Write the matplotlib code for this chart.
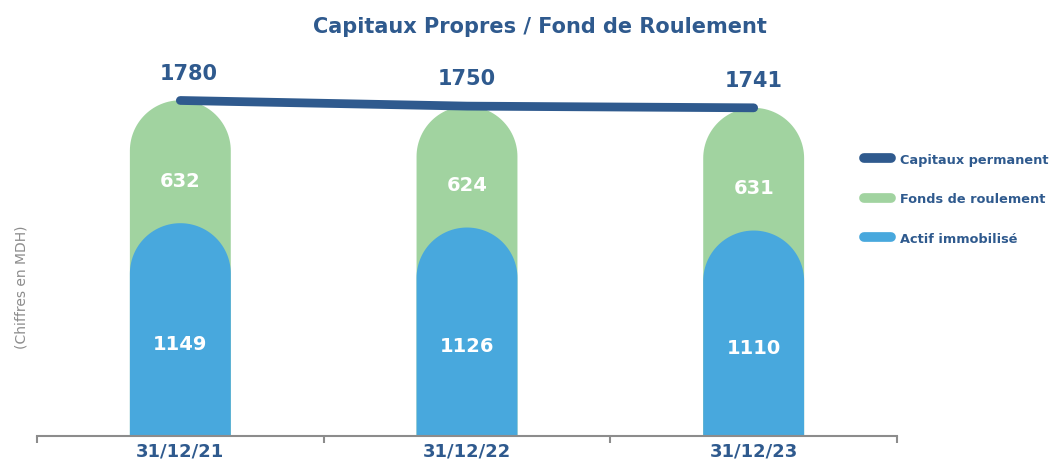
import matplotlib.pyplot as plt
from matplotlib.patches import Polygon
from matplotlib.lines import Line2D
import numpy as np

# data
dates = ["31/12/21", "31/12/22", "31/12/23"]
actif_immobilise = [1149, 1126, 1110]
fonds_roulement = [632, 624, 631]
capitaux_permanents = [1780, 1750, 1741]

DARK = "#2F5A8E"
GREEN = "#A1D3A0"
BLUE = "#48A8DD"

fig = plt.figure(figsize=(10.61, 4.64), dpi=100)
# axes box in pixels: left 37, right 897, top 60, bottom 437
ax = fig.add_axes([37 / 1061, (464 - 437) / 464, 860 / 1061, 377 / 464])
ax.set_xlim(-0.5, 2.5)
ax.set_ylim(0, 2000)

bar_w = 0.352
# pixel scales to get round tops
px_x = 860 / 3.0
px_y = 377 / 2000.0
r_x = bar_w / 2
r_y = r_x * px_x / px_y


def pill(xc, top, color, z):
    # bar with a half-circle top, the top of the arc is the value
    base = top - r_y
    t = np.linspace(0, np.pi, 60)
    xs = np.concatenate([[xc - r_x], xc - r_x * np.cos(t), [xc + r_x]])
    ys = np.concatenate([[0], base + r_y * np.sin(t), [0]])
    ax.add_patch(Polygon(np.column_stack([xs, ys]), closed=True,
                         facecolor=color, edgecolor="none", zorder=z))


x = np.arange(len(dates))
for i in x:
    tot = actif_immobilise[i] + fonds_roulement[i]
    pill(i, tot, GREEN, 1)
    pill(i, actif_immobilise[i] - 20, BLUE, 2)
    ax.text(i, actif_immobilise[i] * 0.425, str(actif_immobilise[i]), color="white",
            fontsize=14, fontweight="bold", ha="center", va="center", zorder=3)
    ax.text(i, actif_immobilise[i] + fonds_roulement[i] * 0.33, str(fonds_roulement[i]),
            color="white", fontsize=14, fontweight="bold", ha="center", va="center", zorder=3)

ax.plot(x, capitaux_permanents, color=DARK, lw=6.3, solid_capstyle="round", zorder=4)
offs = [0.03, 0, 0]
for i in x:
    ax.text(i + offs[i], capitaux_permanents[i] + 95, str(capitaux_permanents[i]), color=DARK,
            fontsize=15, fontweight="bold", ha="center", va="bottom", zorder=5)

for s in ["top", "right", "left"]:
    ax.spines[s].set_visible(False)
ax.spines["bottom"].set_color("#8C8C8C")
ax.spines["bottom"].set_linewidth(1.5)
ax.set_yticks([])
ax.set_xticks(x)
ax.set_xticklabels(dates, color=DARK, fontsize=13, fontweight="bold")
ax.set_xticks([-0.5, 0.5, 1.5, 2.5], minor=True)
ax.tick_params(axis="x", which="major", length=0, pad=4)
ax.tick_params(axis="x", which="minor", length=5, width=1.5, color="#8C8C8C")

fig.text(22 / 1061, 1 - 287 / 464, "(Chiffres en MDH)", rotation=90, color="#8C8C8C",
         fontsize=10, ha="center", va="center")
fig.text(540 / 1061, 1 - 27 / 464, "Capitaux Propres / Fond de Roulement", color=DARK,
         fontsize=15, fontweight="bold", ha="center", va="center")

handles = [Line2D([], [], color=DARK, lw=7, solid_capstyle="round"),
           Line2D([], [], color=GREEN, lw=7, solid_capstyle="round"),
           Line2D([], [], color=BLUE, lw=7, solid_capstyle="round")]
labels = ["Capitaux permanent", "Fonds de roulement", "Actif immobilisé"]
leg = fig.legend(handles, labels, loc="upper left", bbox_to_anchor=(852 / 1061, 1 - 142 / 464),
                 frameon=False, handlelength=2.1, handletextpad=0.7, labelspacing=2.05,
                 prop={"weight": "bold", "size": 9.3})
for t in leg.get_texts():
    t.set_color(DARK)

fig.savefig("out.png", dpi=100)
